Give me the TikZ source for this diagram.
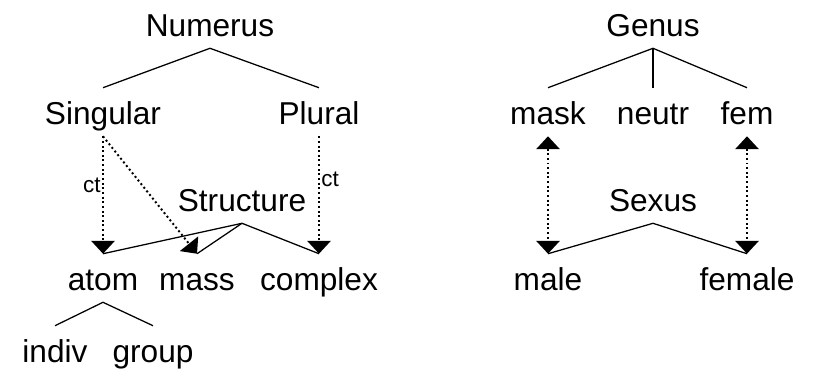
\documentclass[tikz,border=0pt]{standalone}
\usepackage{fontspec}
\setmainfont{Liberation Sans}
\usetikzlibrary{arrows.meta}

\begin{document}
\begin{tikzpicture}[x=0.025cm,y=-0.025cm,
        word/.style={inner sep=0pt,text height=9mm,text depth=3mm,font=\fontsize{22.5}{27}\selectfont},
        tag/.style={inner sep=1pt,font=\fontsize{16}{19}\selectfont},
        branch/.style={line width=0.9pt},
        link/.style={line width=1.4pt,dash pattern=on 1.4pt off 1.9pt,-{Triangle[width=5.8mm,length=3.2mm]}},
        dlink/.style={link,{Triangle[width=5.8mm,length=3.2mm]}-{Triangle[width=5.8mm,length=3.2mm]}}
      ]
      \useasboundingbox (0,0) rectangle (814,368);
      \node[word] (numerus) at (210,24) {Numerus};
      \node[word] (singular) at (103,112) {Singular};
      \node[word] (plural) at (319,112) {Plural};
      \node[word] (structure) at (242,199) {Structure};
      \node[word] (atom) at (103,278) {atom};
      \node[word] (mass) at (197,278) {mass};
      \node[word] (complex) at (319,278) {complex};
      \node[word] (indiv) at (55,350) {indiv};
      \node[word] (group) at (153,350) {group};
      \node[word] (genus) at (653,24) {Genus};
      \node[word] (mask) at (548,112) {mask};
      \node[word] (neutr) at (653,112) {neutr};
      \node[word] (fem) at (747,112) {fem};
      \node[word] (sexus) at (653,199) {Sexus};
      \node[word] (male) at (548,278) {male};
      \node[word] (female) at (747,278) {female};
      \draw[branch] (singular.north) -- (numerus.south) -- (plural.north);
      \draw[branch] (atom.north) -- (structure.south) -- (complex.north);
      \draw[branch] (structure.south) -- (mass.north);
      \draw[branch] (indiv.north) -- (atom.south) -- (group.north);
      \draw[branch] (mask.north) -- (genus.south) -- (fem.north);
      \draw[branch] (genus.south) -- (neutr.north);
      \draw[branch] (male.north) -- (sexus.south) -- (female.north);
      \draw[link] (singular.south) -- node[tag,left,pos=.42] {ct} (atom.north);
      \draw[link] (plural.south) -- node[tag,right,pos=.37] {ct} (complex.north);
      \draw[link] (singular.south) -- (mass.north);
      \draw[dlink] (mask.south) -- (male.north);
      \draw[dlink] (fem.south) -- (female.north);
    \end{tikzpicture}
\end{document}
